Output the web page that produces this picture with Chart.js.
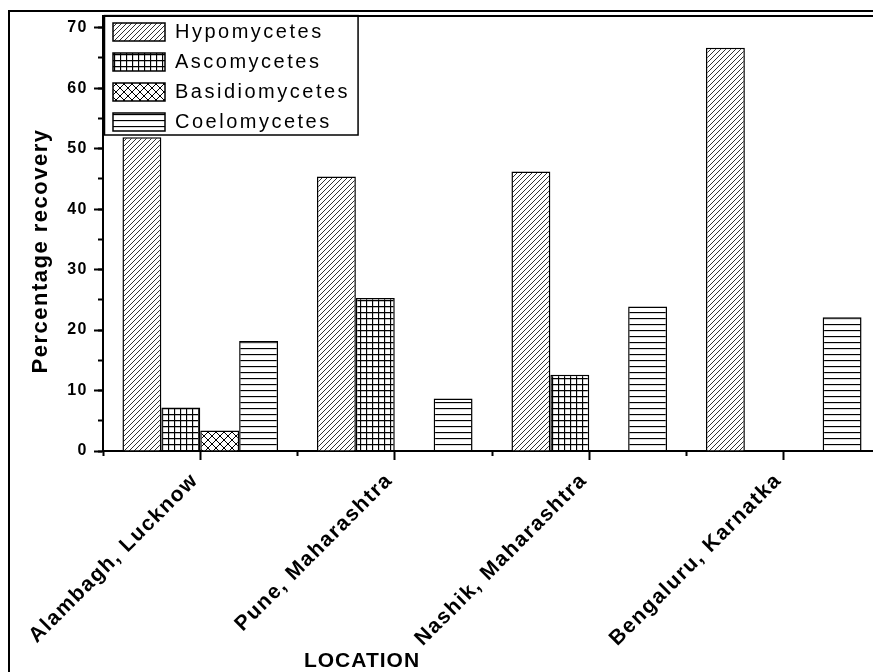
<!DOCTYPE html>
<html>
<head>
<meta charset="utf-8">
<script src="https://cdn.jsdelivr.net/npm/chart.js@4.4.1/dist/chart.umd.min.js"></script>
<style>
  html, body { margin: 0; padding: 0; background: #fff; overflow: hidden; }
  #frame { position: absolute; left: 8px; top: 10px; width: 900px; height: 700px;
           border-left: 2px solid #000; border-top: 2px solid #000; }
  #fungiChart { position: absolute; left: 0; top: 0; }
</style>
</head>
<body>
<div id="frame"></div>
<canvas id="fungiChart" width="890" height="672"></canvas>
<script>
const locations = ["Alambagh, Lucknow", "Pune, Maharashtra", "Nashik, Maharashtra", "Bengaluru, Karnatka"];
const hypomycetes = [51.9, 45.4, 46.2, 66.7];
const ascomycetes = [7.2, 25.3, 12.6, 0];
const basidiomycetes = [3.4, 0, 0, 0];
const coelomycetes = [18.2, 8.7, 23.9, 22.1];
const yMax = 72;
const yStep = 10;
const yMinorStep = 5;

const font = "Arial, 'Liberation Sans', sans-serif";
const ctx = document.getElementById("fungiChart").getContext("2d");

// hatch fills like the Origin plot
function makePattern(w, h, draw) {
  const c = document.createElement("canvas");
  c.width = w;
  c.height = h;
  const p = c.getContext("2d");
  p.fillStyle = "#fff";
  p.fillRect(0, 0, w, h);
  p.strokeStyle = "#000";
  p.beginPath();
  draw(p, w, h);
  p.stroke();
  return ctx.createPattern(c, "repeat");
}

const slashFill = makePattern(5, 5, (p, w, h) => {
  p.strokeStyle = "#333";
  p.lineWidth = 1;
  p.moveTo(0, h); p.lineTo(w, 0);
  p.moveTo(-1, 1); p.lineTo(1, -1);
  p.moveTo(w - 1, h + 1); p.lineTo(w + 1, h - 1);
});
const gridFill = makePattern(6, 6, (p) => {
  p.lineWidth = 1.3;
  p.moveTo(0.5, 0); p.lineTo(0.5, 6);
  p.moveTo(0, 0.5); p.lineTo(6, 0.5);
});
const crossFill = makePattern(8, 8, (p) => {
  p.lineWidth = 1;
  p.moveTo(0, 0); p.lineTo(8, 8);
  p.moveTo(0, 8); p.lineTo(8, 0);
});
const lineFill = makePattern(4, 6, (p) => {
  p.lineWidth = 1.3;
  p.moveTo(0, 0.5); p.lineTo(4, 0.5);
});

function series(label, data, fill) {
  return {
    label,
    data,
    backgroundColor: fill,
    borderColor: "#000",
    borderWidth: 1.5,
    categoryPercentage: 0.8,
    barPercentage: 1.0,
  };
}

// Origin spaces its text out; legend is drawn before the bars, tick labels after
const spacing = {
  id: "spacing",
  beforeLayout(chart) { chart.ctx.letterSpacing = "2.5px"; },
  beforeDraw(chart) { chart.ctx.letterSpacing = "2.5px"; },
  afterDatasetsDraw(chart) { chart.ctx.letterSpacing = "1.5px"; },
};

const legendFrame = {
  id: "legendFrame",
  afterDraw(chart) {
    const boxes = chart.legend && chart.legend.legendHitBoxes;
    if (!boxes || !boxes.length) return;
    let right = 0;
    boxes.forEach(b => { right = Math.max(right, b.left + b.width); });
    const last = boxes[boxes.length - 1];
    const left = chart.chartArea.left + 1.5;
    const top = chart.chartArea.top;
    const c = chart.ctx;
    c.save();
    c.strokeStyle = "#000";
    c.lineWidth = 1.5;
    c.strokeRect(left, top, right + 8 - left, last.top + last.height + 3 - top);
    c.restore();
  },
};

const axisTitles = {
  id: "axisTitles",
  afterDraw(chart) {
    const c = chart.ctx;
    c.save();
    c.fillStyle = "#000";
    c.textAlign = "center";
    c.textBaseline = "middle";
    c.letterSpacing = "1px";
    c.font = "bold 21px " + font;
    c.fillText("LOCATION", 362, 661);
    c.letterSpacing = "1.5px";
    c.font = "bold 22px " + font;
    c.translate(41, 251);
    c.rotate(-Math.PI / 2);
    c.fillText("Percentage recovery", 0, 0);
    c.restore();
  },
};

new Chart(ctx, {
  type: "bar",
  data: {
    labels: locations,
    datasets: [
      series("Hypomycetes", hypomycetes, slashFill),
      series("Ascomycetes", ascomycetes, gridFill),
      series("Basidiomycetes", basidiomycetes, crossFill),
      series("Coelomycetes", coelomycetes, lineFill),
    ],
  },
  options: {
    responsive: false,
    animation: false,
    layout: { padding: { top: 15, right: 9, bottom: 0, left: 0 } },
    plugins: {
      tooltip: { enabled: false },
      legend: {
        position: "chartArea",
        align: "start",
        // empty title only pushes the rows down inside the box
        title: { display: true, text: " ", padding: 0, color: "rgba(0,0,0,0)", font: { size: 10 } },
        labels: {
          boxWidth: 52,
          boxHeight: 18,
          padding: 10,
          color: "#000",
          font: { family: font, size: 20 },
        },
      },
    },
    scales: {
      x: {
        type: "category",
        offset: true,
        weight: 1,
        grid: { offset: false, drawOnChartArea: false, tickLength: 9, tickWidth: 2, tickColor: "#000" },
        border: { color: "#000", width: 2 },
        ticks: {
          z: 1,
          color: "#000",
          minRotation: 45,
          maxRotation: 45,
          padding: 3,
          font: { family: font, size: 21, weight: "bold" },
          callback: (v, i) => locations[i] + " ",
        },
        afterFit: s => { s.height = 221; },
      },
      xMinor: {
        type: "category",
        position: "bottom",
        offset: true,
        weight: 0,
        grid: { offset: true, drawOnChartArea: false, tickLength: 5, tickWidth: 2, tickColor: "#000" },
        border: { display: false },
        ticks: { display: false },
        afterFit: s => { s.height = 0; },
      },
      xTop: {
        type: "category",
        position: "top",
        offset: true,
        grid: { display: false },
        border: { color: "#000", width: 2 },
        ticks: { display: false },
        afterFit: s => { s.height = 0; },
      },
      y: {
        type: "linear",
        position: "left",
        weight: 1,
        min: 0,
        max: yMax,
        grid: { drawOnChartArea: false, tickLength: 9, tickWidth: 2, tickColor: "#000" },
        border: { color: "#000", width: 2 },
        ticks: {
          z: 1,
          stepSize: yStep,
          includeBounds: false,
          padding: 6,
          color: "#000",
          font: { family: font, size: 16, weight: "bold" },
        },
        afterFit: s => { s.width = 103; },
      },
      yMinor: {
        type: "linear",
        position: "left",
        weight: 0,
        min: 0,
        max: yMax,
        grid: { drawOnChartArea: false, tickLength: 5, tickWidth: 2, tickColor: "#000" },
        border: { display: false },
        ticks: { display: false, stepSize: yMinorStep, includeBounds: false },
        afterFit: s => { s.width = 0; },
      },
    },
  },
  plugins: [spacing, legendFrame, axisTitles],
});
</script>
</body>
</html>
